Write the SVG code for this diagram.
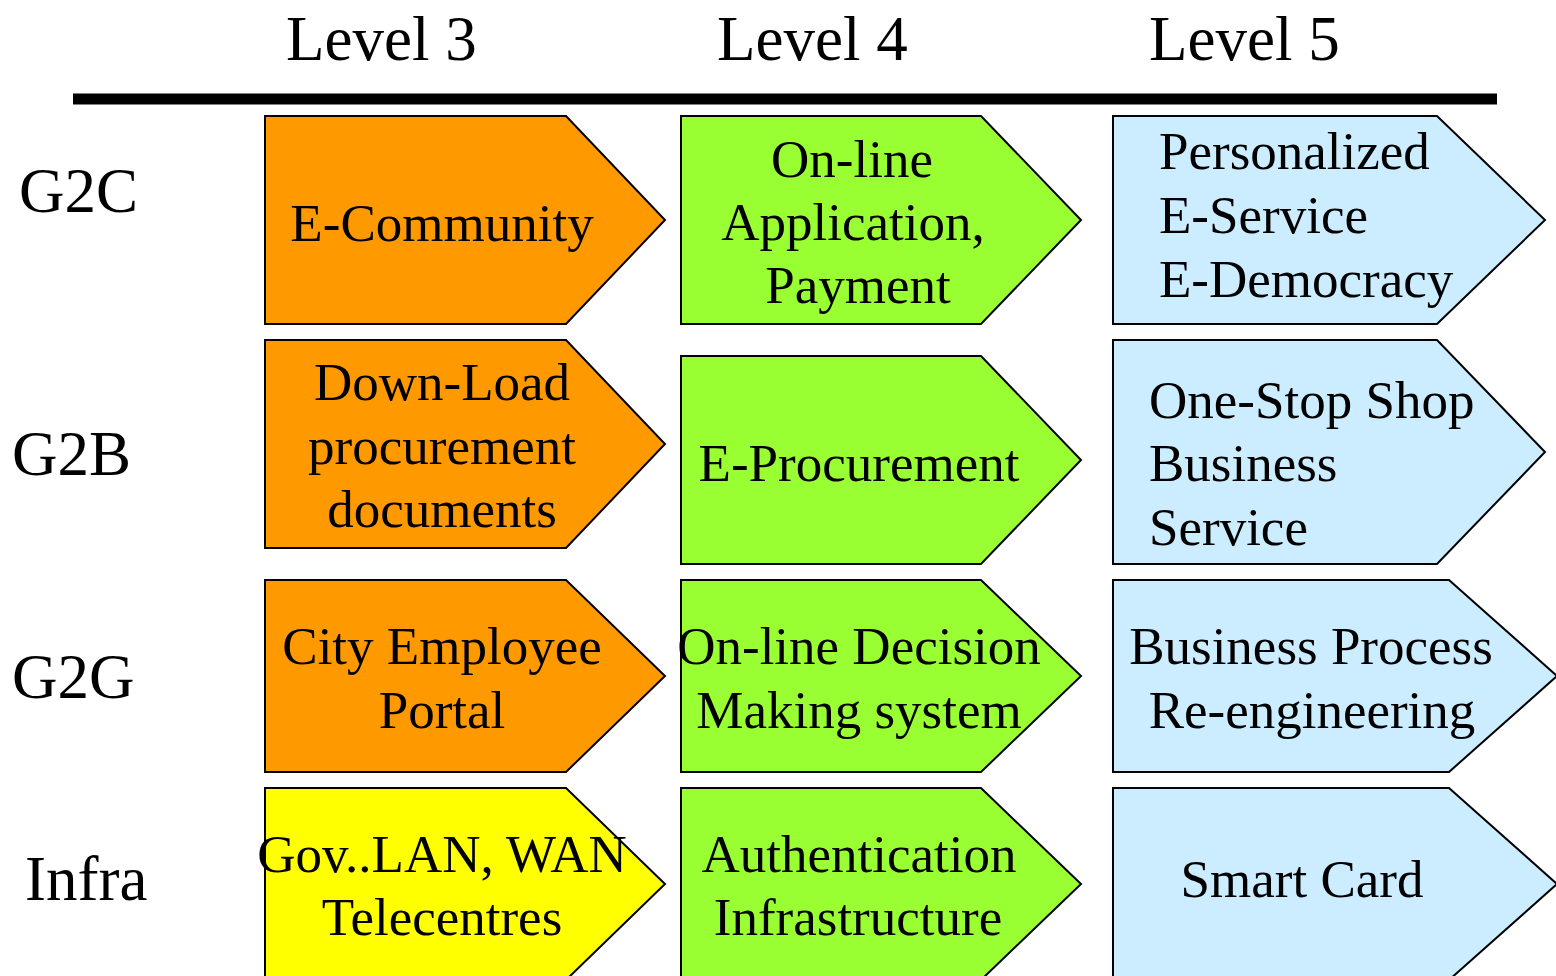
<svg xmlns="http://www.w3.org/2000/svg" width="1556" height="976" viewBox="0 0 1556 976">
  <style>
    text { font-family: "Liberation Serif", "Times New Roman", serif; fill: #000; }
    .hdr { font-size: 63px; }
    .lbl { font-size: 53px; }
    .mid { text-anchor: middle; }
    .box { stroke: #000; stroke-width: 2; }
    .l3 { fill: #FF9900; }
    .l3i { fill: #FFFF00; }
    .l4 { fill: #99FF33; }
    .l5 { fill: #CCECFF; }
  </style>

  <!-- column headings -->
  <g id="headings">
    <text class="hdr" x="286" y="60">Level 3</text>
    <text class="hdr" x="717" y="60">Level 4</text>
    <text class="hdr" x="1149" y="60">Level 5</text>
    <line x1="73" y1="99" x2="1497" y2="99" stroke="#000" stroke-width="11"/>
  </g>

  <!-- row headings -->
  <g id="rows">
    <text class="hdr" x="19" y="212">G2C</text>
    <text class="hdr" x="12" y="475">G2B</text>
    <text class="hdr" x="12" y="698">G2G</text>
    <text class="hdr" x="25" y="900">Infra</text>
  </g>

  <!-- Level 3 -->
  <g id="l3-g2c">
    <polygon class="box l3" points="265,116 566,116 665,220 566,324 265,324"/>
    <text class="lbl mid" x="442" y="241">E-Community</text>
  </g>
  <g id="l3-g2b">
    <polygon class="box l3" points="265,340 566,340 665,444 566,548 265,548"/>
    <text class="lbl mid" x="442" y="400">Down-Load</text>
    <text class="lbl mid" x="442" y="464">procurement</text>
    <text class="lbl mid" x="442" y="527">documents</text>
  </g>
  <g id="l3-g2g">
    <polygon class="box l3" points="265,580 566,580 665,676 566,772 265,772"/>
    <text class="lbl mid" x="442" y="664">City Employee</text>
    <text class="lbl mid" x="442" y="728">Portal</text>
  </g>
  <g id="l3-infra">
    <polygon class="box l3i" points="265,788 566,788 665,884 566,980 265,980"/>
    <text class="lbl mid" x="442" y="872">Gov..LAN, WAN</text>
    <text class="lbl mid" x="442" y="935">Telecentres</text>
  </g>

  <!-- Level 4 -->
  <g id="l4-g2c">
    <polygon class="box l4" points="681,116 981,116 1081,220 981,324 681,324"/>
    <text class="lbl mid" x="852" y="177">On-line</text>
    <text class="lbl mid" x="853" y="240">Application,</text>
    <text class="lbl mid" x="858" y="303">Payment</text>
  </g>
  <g id="l4-g2b">
    <polygon class="box l4" points="681,356 981,356 1081,460 981,564 681,564"/>
    <text class="lbl mid" x="859" y="481">E-Procurement</text>
  </g>
  <g id="l4-g2g">
    <polygon class="box l4" points="681,580 981,580 1081,676 981,772 681,772"/>
    <text class="lbl mid" x="859" y="664">On-line Decision</text>
    <text class="lbl mid" x="859" y="728">Making system</text>
  </g>
  <g id="l4-infra">
    <polygon class="box l4" points="681,788 981,788 1081,884 981,980 681,980"/>
    <text class="lbl mid" x="859" y="872">Authentication</text>
    <text class="lbl mid" x="858" y="935">Infrastructure</text>
  </g>

  <!-- Level 5 -->
  <g id="l5-g2c">
    <polygon class="box l5" points="1113,116 1437,116 1545,220 1437,324 1113,324"/>
    <text class="lbl" x="1159" y="169">Personalized</text>
    <text class="lbl" x="1159" y="233">E-Service</text>
    <text class="lbl" x="1159" y="297">E-Democracy</text>
  </g>
  <g id="l5-g2b">
    <polygon class="box l5" points="1113,340 1437,340 1545,452 1437,564 1113,564"/>
    <text class="lbl" x="1149" y="418">One-Stop Shop</text>
    <text class="lbl" x="1149" y="481">Business</text>
    <text class="lbl" x="1149" y="545">Service</text>
  </g>
  <g id="l5-g2g">
    <polygon class="box l5" points="1113,580 1449,580 1557,676 1449,772 1113,772"/>
    <text class="lbl mid" x="1311" y="664">Business Process</text>
    <text class="lbl mid" x="1312" y="728">Re-engineering</text>
  </g>
  <g id="l5-infra">
    <polygon class="box l5" points="1113,788 1449,788 1557,884 1449,980 1113,980"/>
    <text class="lbl mid" x="1302" y="897">Smart Card</text>
  </g>
</svg>
